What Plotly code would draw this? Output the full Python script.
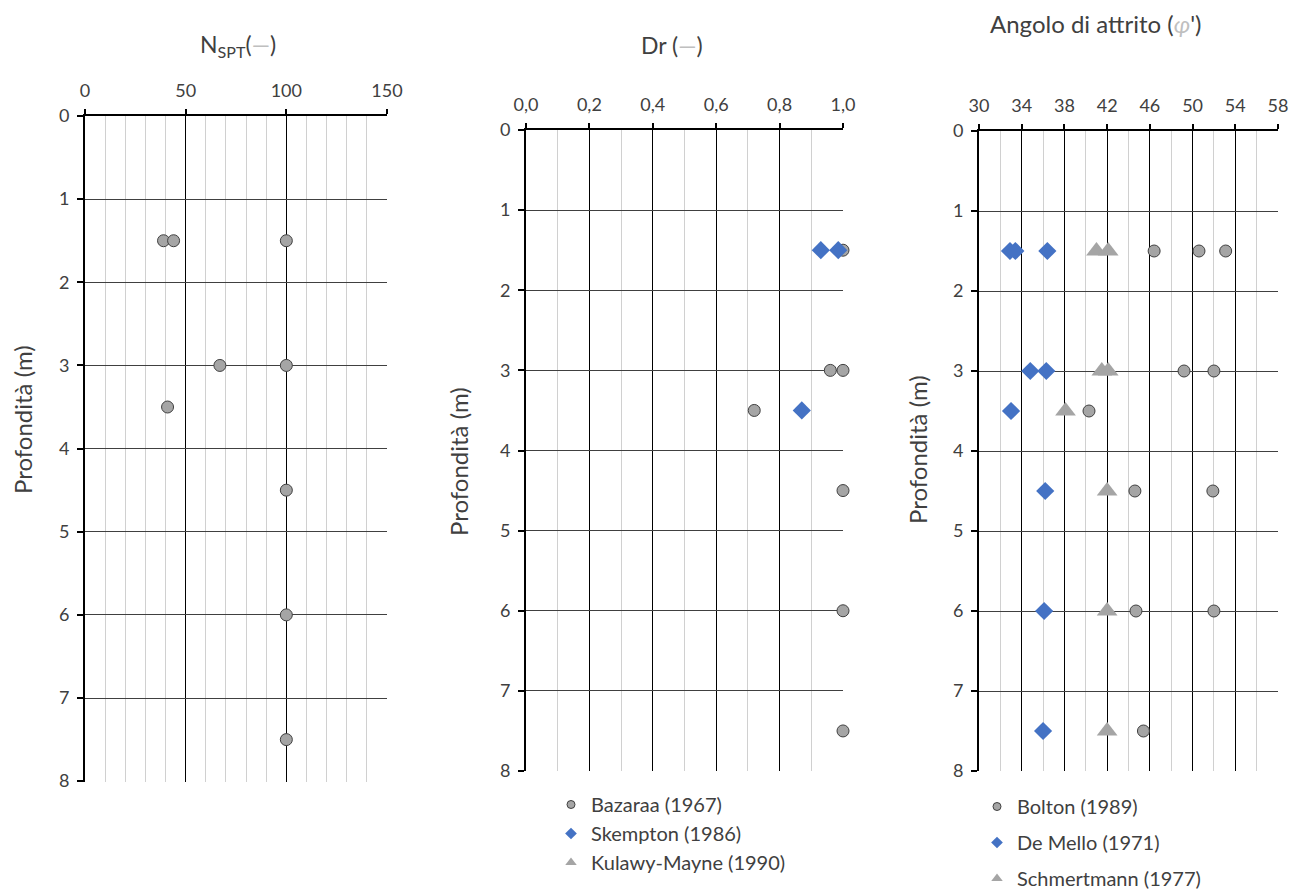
import plotly.graph_objects as go

# ---------------- data ----------------
nspt_depth = [1.5, 1.5, 1.5, 3, 3, 3.5, 4.5, 6, 7.5]
nspt_value = [39, 44, 100, 67, 100, 41, 100, 100, 100]

bazaraa_depth = [1.5, 3, 3, 3.5, 4.5, 6, 7.5]
bazaraa_dr = [1.0, 0.96, 1.0, 0.72, 1.0, 1.0, 1.0]
skempton_depth = [1.5, 1.5, 3.5]
skempton_dr = [0.93, 0.985, 0.87]
kulawy_depth = []
kulawy_dr = []

bolton_depth = [1.5, 1.5, 1.5, 3, 3, 3.5, 4.5, 4.5, 6, 6, 7.5]
bolton_phi = [46.4, 50.6, 53.1, 49.2, 52.0, 40.3, 44.6, 51.9, 44.7, 52.0, 45.4]
demello_depth = [1.5, 1.5, 1.5, 3, 3, 3.5, 4.5, 6, 7.5]
demello_phi = [32.9, 33.4, 36.4, 34.8, 36.3, 33.0, 36.2, 36.1, 36.0]
schm_depth = [1.5, 1.5, 3, 3, 3.5, 4.5, 6, 7.5]
schm_phi = [41.0, 42.1, 41.5, 42.1, 38.1, 42.0, 42.0, 42.0]

depth_ticks = [0, 1, 2, 3, 4, 5, 6, 7, 8]

# ---------------- styles ----------------
FONT = "Lato"
TXT = "#404040"
GRAY_FILL = "#a5a5a5"
BLUE = "#4472c4"
circle = dict(symbol="circle", size=12, color=GRAY_FILL, line=dict(color="#404040", width=1))
diamond = dict(symbol="diamond", size=14, color=BLUE, line=dict(width=0))
triangle = dict(symbol="triangle-up", size=18, color=GRAY_FILL, line=dict(width=0))

# the page body has an 8px margin: the figure is drawn from (8, 8)
OFF = 8
W, H = 1307 - OFF, 890 - OFF
def px_x(a, b):
    return [(a - OFF) / W, (b - OFF) / W]
def px_y(top, bot):
    return [1 - (bot - OFF) / H, 1 - (top - OFF) / H]
def fx(a):
    return (a - OFF) / W
def fy(a):
    return 1 - (a - OFF) / H

fig = go.Figure()

# Left panel
fig.add_trace(go.Scatter(x=nspt_value, y=nspt_depth, mode="markers", marker=circle,
                         xaxis="x", yaxis="y", showlegend=False, cliponaxis=False))

# Middle panel
fig.add_trace(go.Scatter(x=bazaraa_dr, y=bazaraa_depth, mode="markers", marker=circle,
                         xaxis="x2", yaxis="y2", showlegend=False, cliponaxis=False))
fig.add_trace(go.Scatter(x=skempton_dr, y=skempton_depth, mode="markers", marker=diamond,
                         xaxis="x2", yaxis="y2", showlegend=False, cliponaxis=False))
fig.add_trace(go.Scatter(x=kulawy_dr, y=kulawy_depth, mode="markers", marker=triangle,
                         xaxis="x2", yaxis="y2", showlegend=False, cliponaxis=False))

# Right panel
fig.add_trace(go.Scatter(x=bolton_phi, y=bolton_depth, mode="markers", marker=circle,
                         xaxis="x3", yaxis="y3", showlegend=False, cliponaxis=False))
fig.add_trace(go.Scatter(x=demello_phi, y=demello_depth, mode="markers", marker=diamond,
                         xaxis="x3", yaxis="y3", showlegend=False, cliponaxis=False))
fig.add_trace(go.Scatter(x=schm_phi, y=schm_depth, mode="markers", marker=triangle,
                         xaxis="x3", yaxis="y3", showlegend=False, cliponaxis=False))

# Legend entries (small symbols like the original)
def leg_entry(name, mk, legend, xa, ya, size):
    m = dict(mk)
    m["size"] = size
    if m["symbol"] == "circle":
        m["line"] = dict(color="#404040", width=1)
    fig.add_trace(go.Scatter(x=[None], y=[None], mode="markers", marker=m, name=name,
                             legend=legend, legendgroup=name, xaxis=xa, yaxis=ya))

leg_entry("Bazaraa (1967)", circle, "legend", "x2", "y2", 8)
leg_entry("Skempton (1986)", diamond, "legend", "x2", "y2", 9)
leg_entry("Kulawy-Mayne (1990)", triangle, "legend", "x2", "y2", 10)
leg_entry("Bolton (1989)", circle, "legend2", "x3", "y3", 8)
leg_entry("De Mello (1971)", diamond, "legend2", "x3", "y3", 9)
leg_entry("Schmertmann (1977)", triangle, "legend2", "x3", "y3", 10)

def xaxis(dom, rng, dtick, minor, fmt=None):
    d = dict(domain=dom, range=rng, side="top", dtick=dtick, tick0=rng[0],
             showline=True, linecolor="black", linewidth=2,
             ticks="outside", ticklen=5, tickcolor="black", tickwidth=2,
             ticklabelstandoff=5,
             showgrid=True, gridcolor="black", gridwidth=1, zeroline=False,
             minor=dict(dtick=minor, showgrid=True, gridcolor="#d0d0d0", gridwidth=1, ticks=""),
             tickfont=dict(family=FONT, size=18, color=TXT), fixedrange=True,
             automargin=False)
    if fmt:
        d["tickformat"] = fmt
    return d

def yaxis(dom, anchor, rng):
    return dict(domain=dom, anchor=anchor, range=rng, tickvals=depth_ticks,
                showline=True, linecolor="black", linewidth=2,
                ticks="outside", ticklen=6, tickcolor="black", tickwidth=2,
                ticklabelstandoff=4,
                showgrid=True, gridcolor="#404040", gridwidth=1, zeroline=False,
                tickfont=dict(family=FONT, size=18, color=TXT),
                fixedrange=True, automargin=False)

ytitle = "Profondità (m)"

def ann(text, x, y, size, angle=0):
    return dict(text=text, x=fx(x), y=fy(y), xref="paper", yref="paper",
                xanchor="center", yanchor="middle", textangle=angle, showarrow=False,
                font=dict(family=FONT, size=size, color=TXT))

fig.update_layout(
    width=W, height=H,
    margin=dict(l=0, r=0, t=0, b=0, autoexpand=False),
    paper_bgcolor="white", plot_bgcolor="white",
    separators=",.",
    xaxis=dict(xaxis(px_x(85, 387), [0, 150], 50, 10), anchor="y"),
    yaxis=yaxis(px_y(116, 782), "x", [8.01, 0]),
    xaxis2=dict(xaxis(px_x(526, 843), [0, 1], 0.2, 0.1, ".1f"), anchor="y2"),
    yaxis2=yaxis(px_y(130, 771), "x2", [8, 0]),
    xaxis3=dict(xaxis(px_x(979, 1278), [30, 58], 4, 2), anchor="y3"),
    yaxis3=yaxis(px_y(131, 771), "x3", [8, 0]),
    legend=dict(x=fx(551), y=fy(785), xanchor="left", yanchor="top",
                font=dict(family=FONT, size=20, color=TXT), bgcolor="rgba(0,0,0,0)",
                tracegroupgap=0, itemwidth=30),
    legend2=dict(x=fx(977), y=fy(787), xanchor="left", yanchor="top",
                 font=dict(family=FONT, size=20, color=TXT), bgcolor="rgba(0,0,0,0)",
                 tracegroupgap=7, itemwidth=30),
    annotations=[
        ann("N<sub>SPT</sub>(<span style='color:#bfbfbf'>—</span>)", 238, 45, 23),
        ann("Dr (<span style='color:#bfbfbf'>—</span>)", 672, 45, 23),
        ann("Angolo di attrito (<i><span style='color:#bfbfbf'>φ</span></i>')", 1095, 24, 24),
        ann(ytitle, 23, 420, 24, -90),
        ann(ytitle, 458, 462, 24, -90),
        ann(ytitle, 918, 450, 24, -90),
    ],
)

fig.write_html("out.html")
